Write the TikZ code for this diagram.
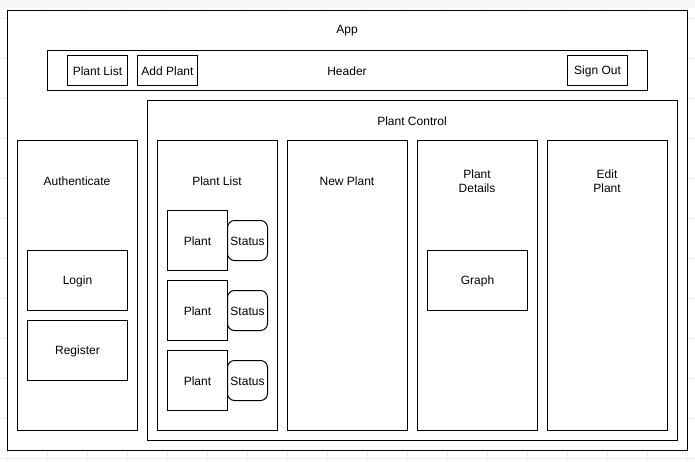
\documentclass[tikz,border=0pt]{standalone}
\usepackage{fontspec}
\setmainfont{Liberation Sans}
\definecolor{topband}{RGB}{246,247,249}
\definecolor{gridc}{RGB}{238,238,238}
\begin{document}
\begin{tikzpicture}[x=1pt,y=-1pt,
  box/.style={draw=black,line width=1pt,fill=white},
  lbl/.style={font=\fontsize{12}{14}\selectfont,align=center,inner sep=0pt,yshift=-1pt},
  rbox/.style={box,rounded corners=7pt}]
\useasboundingbox (0,0) rectangle (695,461);
\fill[white] (0,0) rectangle (695,461);
\fill[topband] (0,0) rectangle (695,8);
\foreach \y in {18,58,98,138,178,218,258,298,338,378,418,458}
  \draw[gridc,line width=0.5pt] (0,\y) -- (695,\y);
\foreach \x in {7,47,87,127,167,207,247,287,327,367,407,447,487,527,567,607,647,687}
  \draw[gridc,line width=0.5pt] (\x,8) -- (\x,461);
% App
\node[box,minimum width=680pt,minimum height=440pt,anchor=north west] (app) at (7,10) {};
\node[lbl] (applbl) at (347,30) {App};
% Header
\node[box,minimum width=600pt,minimum height=40pt,anchor=north west] (header) at (47,50) {};
\node[lbl] (headerlbl) at (347,70) {Header};
\node[box,minimum width=60pt,minimum height=30pt,anchor=north west] (bplist) at (67,55) {};
\node[lbl] at (bplist) {Plant List};
\node[box,minimum width=60pt,minimum height=30pt,anchor=north west] (baddp) at (137,55) {};
\node[lbl] at (baddp) {Add Plant};
\node[box,minimum width=60pt,minimum height=30pt,anchor=north west] (bsign) at (567,55) {};
\node[lbl] at (bsign) {Sign Out};
% Authenticate
\node[box,minimum width=120pt,minimum height=290pt,anchor=north west] (auth) at (17,140) {};
\node[lbl] (authlbl) at (77,180) {Authenticate};
\node[box,minimum width=100pt,minimum height=60pt,anchor=north west] (login) at (27,250) {};
\node[lbl] at (login) {Login};
\node[box,minimum width=100pt,minimum height=60pt,anchor=north west] (register) at (27,320) {};
\node[lbl] at (register) {Register};
% Plant Control
\node[box,minimum width=530pt,minimum height=340pt,anchor=north west] (pc) at (147,100) {};
\node[lbl] (pclbl) at (412,120) {Plant Control};
\node[box,minimum width=120pt,minimum height=290pt,anchor=north west] (plist) at (157,140) {};
\node[lbl] (plistlbl) at (217,180) {Plant List};
\node[box,minimum width=120pt,minimum height=290pt,anchor=north west] (newp) at (287,140) {};
\node[lbl] (newplbl) at (347,180) {New Plant};
\node[box,minimum width=120pt,minimum height=290pt,anchor=north west] (details) at (417,140) {};
\node[lbl] (detailslbl) at (477,180) {Plant\\Details};
\node[box,minimum width=120pt,minimum height=290pt,anchor=north west] (edit) at (547,140) {};
\node[lbl] (editlbl) at (607,180) {Edit\\Plant};
\node[box,minimum width=100pt,minimum height=60pt,anchor=north west] (graph) at (427,250) {};
\node[lbl] at (graph) {Graph};
% Plants
\foreach \i/\y in {1/210,2/280,3/350}{
  \node[rbox,minimum width=40pt,minimum height=40pt,anchor=north west] (status\i) at (227,\y+10) {};
  \node[lbl] at (status\i) {Status};
  \node[box,minimum width=60pt,minimum height=60pt,anchor=north west] (plant\i) at (167,\y) {};
  \node[lbl] at (plant\i) {Plant};
}
\end{tikzpicture}
\end{document}
